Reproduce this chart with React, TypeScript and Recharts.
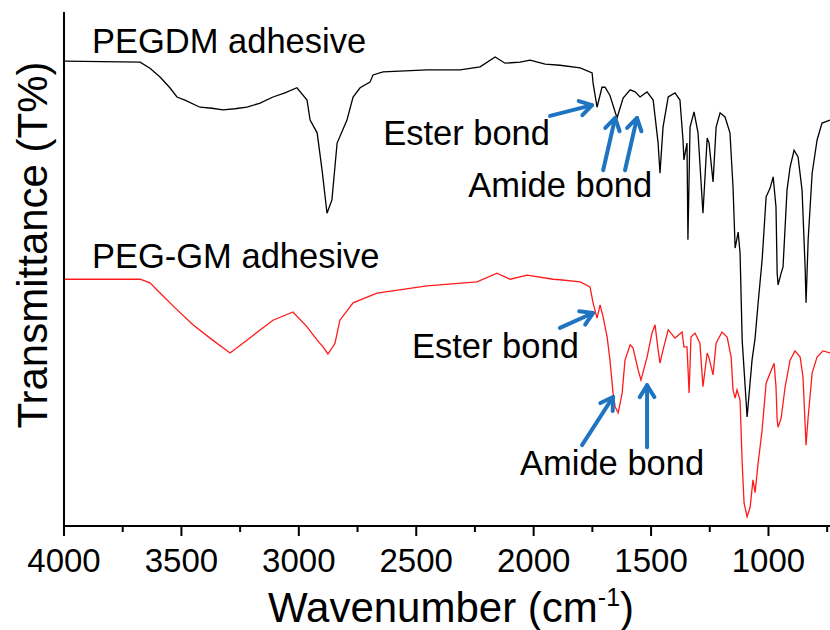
import { LineChart, Line, XAxis, YAxis, ReferenceLine, ReferenceDot } from 'recharts'

// FTIR spectra, wavenumber (cm-1) vs transmittance (arbitrary, offset)
const pegdmWn = [3996, 3676, 3634, 3591, 3549, 3519, 3485, 3421, 3370, 3323, 3272, 3221, 3165, 3110, 3059, 3008, 2965, 2952, 2922, 2901, 2880, 2859, 2837, 2795, 2769, 2739, 2697, 2684, 2641, 2454, 2313, 2228, 2164, 2122, 2058, 2015, 1951, 1888, 1802, 1751, 1747, 1730, 1709, 1696, 1675, 1645, 1619, 1589, 1568, 1547, 1517, 1491, 1470, 1462, 1449, 1427, 1398, 1377, 1364, 1360, 1347, 1343, 1334, 1317, 1300, 1279, 1261, 1253, 1236, 1223, 1206, 1185, 1164, 1151, 1142, 1129, 1121, 1112, 1091, 1070, 1057, 1044, 1027, 1010, 993, 980, 968, 963, 959, 946, 938, 921, 908, 891, 874, 857, 844, 840, 831, 814, 793, 772, 738]
const pegdmT = [90.4, 90.2, 89.0, 87.3, 85.2, 83.4, 82.8, 81.4, 81.2, 80.9, 81.1, 81.4, 82.2, 83.4, 84.2, 85.2, 82.8, 78.9, 76.4, 69.1, 60.7, 63.3, 74.4, 78.9, 83.4, 85.2, 86.3, 87.7, 88.3, 88.7, 88.7, 89.3, 91.2, 90.0, 90.2, 90.6, 89.8, 89.6, 89.1, 88.1, 86.1, 81.4, 85.3, 85.3, 83.7, 79.3, 83.2, 84.8, 84.4, 83.4, 84.4, 82.8, 74.4, 68.5, 77.5, 83.4, 84.2, 82.8, 75.0, 71.1, 74.4, 55.5, 77.5, 80.5, 76.4, 60.7, 75.4, 74.4, 66.8, 77.5, 80.3, 79.5, 76.4, 65.8, 53.9, 57.0, 52.9, 35.9, 20.9, 32.0, 36.3, 43.2, 51.6, 63.9, 65.6, 67.8, 61.9, 49.0, 46.7, 49.0, 50.2, 65.2, 69.7, 73.0, 71.7, 65.2, 50.2, 43.2, 55.5, 68.5, 75.0, 78.3, 78.9]

const pegGmWn = [3996, 3676, 3634, 3591, 3527, 3451, 3378, 3293, 3221, 3165, 3110, 3025, 2965, 2922, 2897, 2876, 2846, 2825, 2769, 2667, 2454, 2241, 2156, 2100, 2028, 1917, 1888, 1802, 1760, 1747, 1730, 1717, 1704, 1687, 1675, 1662, 1653, 1640, 1623, 1611, 1589, 1577, 1555, 1543, 1517, 1496, 1483, 1470, 1462, 1449, 1427, 1398, 1368, 1360, 1347, 1338, 1330, 1313, 1292, 1279, 1261, 1253, 1236, 1223, 1198, 1176, 1159, 1151, 1142, 1134, 1121, 1112, 1104, 1091, 1078, 1066, 1057, 1044, 1027, 1010, 993, 976, 968, 963, 959, 946, 929, 908, 887, 865, 853, 840, 831, 814, 793, 768, 738]
const pegGmT = [47.8, 47.8, 47.1, 45.1, 42.2, 38.9, 36.3, 33.4, 35.9, 37.9, 39.8, 41.4, 38.5, 35.9, 34.6, 33.2, 35.3, 39.8, 43.2, 45.1, 46.5, 47.3, 49.0, 47.8, 48.6, 47.8, 47.7, 47.3, 46.3, 43.2, 40.2, 42.8, 40.4, 36.5, 32.0, 25.6, 22.9, 21.7, 25.6, 32.0, 35.0, 34.4, 30.1, 28.1, 32.6, 37.3, 38.9, 34.0, 31.4, 34.0, 37.9, 36.3, 37.5, 34.6, 34.6, 25.6, 36.5, 37.3, 35.3, 26.8, 33.4, 32.4, 29.1, 35.3, 37.5, 36.5, 32.6, 26.2, 24.6, 26.2, 24.2, 11.9, 4.1, 1.4, 3.3, 8.6, 6.1, 11.9, 18.4, 27.5, 29.5, 31.4, 26.8, 20.3, 18.9, 20.7, 26.8, 32.0, 33.8, 32.6, 28.7, 15.4, 20.9, 29.5, 32.6, 33.8, 33.4]

const wnTicks = [4000, 3750, 3500, 3250, 3000, 2750, 2500, 2250, 2000, 1750, 1500, 1250, 1000, 750]

// text labels: [text, wavenumber, T] at the text's left baseline
const labels: [string, number, number][] = [
  ['PEGDM adhesive', 3881, 92.0],
  ['PEG-GM adhesive', 3881, 50.0],
  ['Ester bond', 2641, 74.0],
  ['Amide bond', 2279, 63.9],
  ['Ester bond', 2518, 32.4],
  ['Amide bond', 2058, 9.6],
]

// arrows: tail (w, T) -> head (w, T)
const arrows: [number, number, number, number][] = [
  [1930, 79.7, 1751, 81.8],
  [1704, 69.1, 1653, 79.3],
  [1611, 69.1, 1560, 79.3],
  [1888, 38.3, 1747, 41.2],
  [1794, 15.4, 1662, 24.8],
  [1517, 15.0, 1517, 27.1],
]

const FONT = "Arial, 'Liberation Sans', sans-serif"
const BLUE = '#1f74c2'

const pegdm = pegdmWn.map((w, i) => ({ w, t: pegdmT[i] }))
const pegGm = pegGmWn.map((w, i) => ({ w, t: pegGmT[i] }))

function WnTick({ x, y, payload }: any) {
  const major = payload.value % 500 === 0
  return (
    <g>
      <line x1={x} x2={x} y1={y} y2={y + (major ? 10 : 6)} stroke="#000" strokeWidth={2} />
      {major && (
        <text x={x} y={y + 46} textAnchor="middle" fontSize={33} fontFamily={FONT} fill="#000">
          {payload.value}
        </text>
      )}
    </g>
  )
}

function ArrowShape(props: any) {
  const { x1, y1, x2, y2 } = props
  const ang = Math.atan2(y2 - y1, x2 - x1)
  const len = 14
  const spread = 0.55
  const ax = x2 - len * Math.cos(ang - spread)
  const ay = y2 - len * Math.sin(ang - spread)
  const bx = x2 - len * Math.cos(ang + spread)
  const by = y2 - len * Math.sin(ang + spread)
  return (
    <g stroke={BLUE} strokeWidth={4} fill="none" strokeLinecap="round" strokeLinejoin="round">
      <line x1={x1} y1={y1} x2={x2} y2={y2} />
      <polyline points={`${ax},${ay} ${x2},${y2} ${bx},${by}`} />
    </g>
  )
}

const labelShape = (text: string) => (p: any) => (
  <text x={p.cx} y={p.cy} fontSize={34.5} fontFamily={FONT} fill="#000">
    {text}
  </text>
)

function YTitle(p: any) {
  const vb = p.viewBox || { x: 0, y: 12, width: 64, height: 514 }
  const cx = vb.x + 47
  const cy = vb.y + vb.height / 2 - 24
  return (
    <text x={cx} y={cy} transform={`rotate(-90, ${cx}, ${cy})`} textAnchor="middle" fontSize={42} fontFamily={FONT} fill="#000">
      Transmittance (T%)
    </text>
  )
}

function XTitle(p: any) {
  const vb = p.viewBox || { x: 64, y: 526, width: 766, height: 104 }
  return (
    <text x={vb.x + vb.width / 2 + 4} y={vb.y + 96} textAnchor="middle" fontSize={42} fontFamily={FONT} fill="#000">
      Wavenumber (cm
      <tspan dy={-16} fontSize={25}>-1</tspan>
      <tspan dy={16}>)</tspan>
    </text>
  )
}

export default function App() {
  return (
    <div style={{ position: 'absolute', left: 0, top: 0, width: 830, height: 630, background: '#fff' }}>
      <LineChart width={830} height={630} margin={{ top: 12, right: 0, bottom: 0, left: 0 }}>
        <XAxis
          xAxisId="w"
          dataKey="w"
          type="number"
          domain={[738, 4000]}
          reversed
          allowDataOverflow
          ticks={wnTicks}
          interval={0}
          tick={<WnTick />}
          tickLine={false}
          tickSize={0}
          tickMargin={0}
          height={104}
          axisLine={{ stroke: '#000', strokeWidth: 2 }}
          label={{ content: XTitle }}
        />
        <XAxis
          xAxisId="top"
          orientation="top"
          dataKey="w"
          type="number"
          domain={[738, 4000]}
          reversed
          tick={false}
          tickLine={false}
          height={0}
          axisLine={{ stroke: '#000', strokeWidth: 2 }}
        />
        <YAxis
          type="number"
          domain={[-0.4, 100]}
          allowDataOverflow
          tick={false}
          tickLine={false}
          width={64}
          axisLine={{ stroke: '#000', strokeWidth: 2 }}
          label={{ content: YTitle }}
        />
        <Line
          xAxisId="w"
          data={pegdm}
          dataKey="t"
          type="linear"
          stroke="#000"
          strokeWidth={1.3}
          dot={false}
          isAnimationActive={false}
        />
        <Line
          xAxisId="w"
          data={pegGm}
          dataKey="t"
          type="linear"
          stroke="#ff1a1a"
          strokeWidth={1.3}
          dot={false}
          isAnimationActive={false}
        />
        {arrows.map(([w1, t1, w2, t2], i) => (
          <ReferenceLine
            key={`a${i}`}
            xAxisId="w"
            segment={[{ x: w1, y: t1 }, { x: w2, y: t2 }]}
            shape={ArrowShape}
          />
        ))}
        {labels.map(([text, w, t], i) => (
          <ReferenceDot key={`l${i}`} xAxisId="w" x={w} y={t} r={0} shape={labelShape(text)} />
        ))}
      </LineChart>
    </div>
  )
}
